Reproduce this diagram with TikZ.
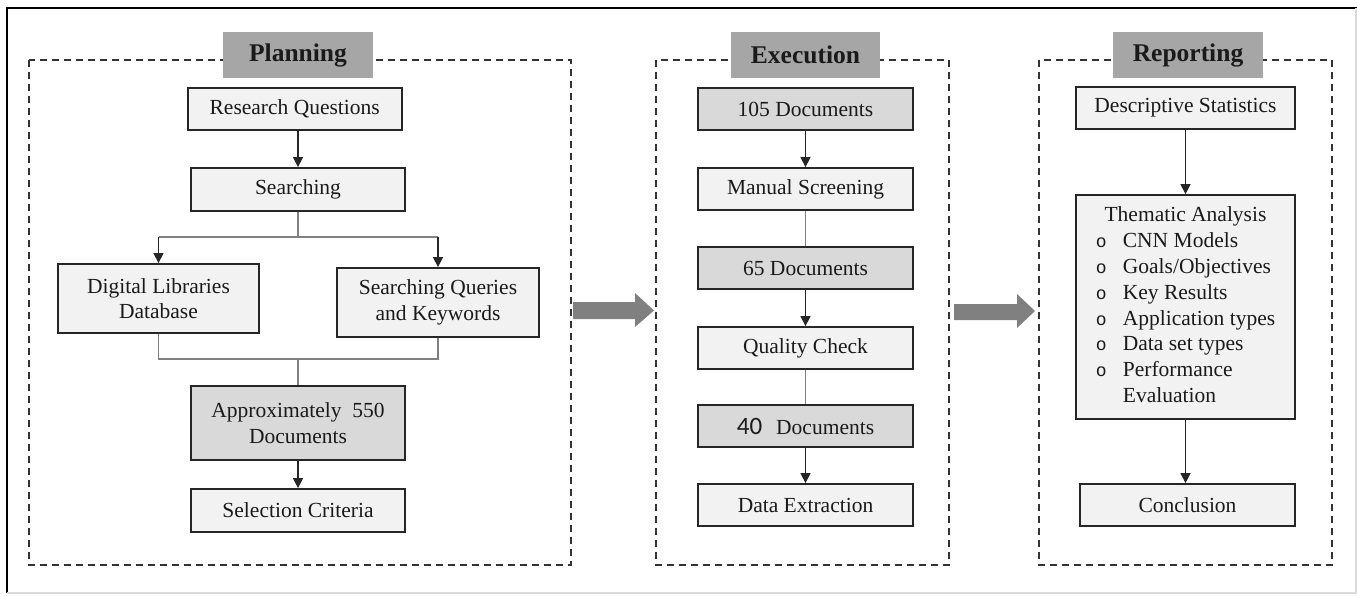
\documentclass[tikz,border=0pt]{standalone}
\usepackage{fontspec}
\setmainfont{Liberation Serif}
\newfontfamily\digitfont{Carlito}
\newfontfamily\bulletfont{Liberation Mono}
\usetikzlibrary{arrows.meta}
\definecolor{boxlight}{HTML}{F2F2F2}
\definecolor{boxdark}{HTML}{D9D9D9}
\definecolor{titlegray}{HTML}{A6A6A6}
\definecolor{bigarrow}{HTML}{808080}
\definecolor{edge}{HTML}{262626}
\definecolor{linkgray}{HTML}{808080}
\definecolor{inktext}{HTML}{1A1A1A}
\newcommand{\itemdot}{\makebox[27pt][l]{\bulletfont\fontsize{18}{18}\selectfont o}}

\begin{document}
\begin{tikzpicture}[x=1pt,y=-1pt,
  box/.style={draw=edge, line width=1.8pt, fill=boxlight, inner sep=0pt,
    text=inktext, align=center, font=\rmfamily\fontsize{21.5}{25.5}\selectfont},
  darkbox/.style={box, fill=boxdark},
  phase/.style={fill=titlegray, inner sep=0pt, minimum width=150pt,
    minimum height=46pt, text=inktext, font=\rmfamily\bfseries\fontsize{25.5}{30}\selectfont},
  frame/.style={draw=black!80, line width=2pt, dash pattern=on 7pt off 5pt},
  link/.style={draw=linkgray, line width=1.4pt},
  arr/.style={draw=black!85, line width=1.4pt, -{Triangle[length=10pt,width=10pt]}},
  blockarrow/.style={fill=bigarrow},
]
\useasboundingbox (0,0) rectangle (1357,595);
\fill[white] (0,0) rectangle (1357,595);

% outer border
\draw[black, line width=2.5pt] (7,593) -- (7,8) -- (1357,8);
\draw[black!15, line width=1.5pt] (1356,8) -- (1356,593) -- (7,593);

% phase frames
\draw[frame] (28.5,60) rectangle (570.5,565);
\draw[frame] (656,60) rectangle (949,565);
\draw[frame] (1039,60) rectangle (1332,565);

\node[phase] (tplan) at (298,55) {Planning};
\node[phase, minimum width=149pt] (texec) at (805.5,55) {Execution};
\node[phase] (trep) at (1188,55) {Reporting};

% ---------- Planning ----------
\node[box, minimum width=214pt, minimum height=42pt] (rq) at (294.7,109) {Research Questions};
\node[box, minimum width=214pt, minimum height=43pt] (srch) at (298,189.5) {Searching};
\node[box, minimum width=201pt, minimum height=69pt] (dl) at (158.5,298.5) {Digital Libraries\\Database};
\node[box, minimum width=202pt, minimum height=69pt] (sq) at (438,302.5) {Searching Queries\\and Keywords};
\node[darkbox, minimum width=214pt, minimum height=74pt] (appx) at (298,423) {Approximately\ \ 550\\Documents};
\node[box, minimum width=214pt, minimum height=43pt] (sel) at (298,510.5) {Selection Criteria};

\draw[arr] (rq.south -| srch.north) -- (srch.north);
\coordinate (split) at (298,237);
\draw[link] (srch.south) -- (split);
\draw[link] (dl.north |- split) -- (sq.north |- split);
\draw[arr] (dl.north |- split) -- (dl.north);
\draw[arr] (sq.north |- split) -- (sq.north);
\coordinate (merge) at (298,359);
\draw[link] (dl.south) -- (dl.south |- merge) -- (sq.south |- merge) -- (sq.south);
\draw[link] (merge) -- (appx.north);
\draw[arr] (appx.south) -- (sel.north);

% ---------- Execution ----------
\node[darkbox, minimum width=215pt, minimum height=42pt] (d105) at (805.5,109) {105 Documents};
\node[box, minimum width=215pt, minimum height=42pt] (ms) at (805.5,189) {Manual Screening};
\node[darkbox, minimum width=215pt, minimum height=42pt] (d65) at (805.5,268) {65 Documents};
\node[box, minimum width=215pt, minimum height=42pt] (qc) at (805.5,348) {Quality Check};
\node[darkbox, minimum width=215pt, minimum height=42pt] (d40) at (805.5,426) {{\digitfont\fontsize{25}{25}\selectfont 40}\hspace{14pt}Documents};
\node[box, minimum width=215pt, minimum height=42pt] (de) at (805.5,505) {Data Extraction};

\draw[arr] (d105) -- (ms);
\draw[link] (ms) -- (d65);
\draw[arr] (d65) -- (qc);
\draw[link] (qc) -- (d40);
\draw[arr] (d40) -- (de);

% ---------- Reporting ----------
\node[box, minimum width=219pt, minimum height=42pt] (ds) at (1185.5,108) {Descriptive Statistics};
\node[box, minimum width=219pt, minimum height=224pt] (ta) at (1185.5,307) {%
  \fontsize{21.5}{25.8}\selectfont
  \begin{tabular}{@{}l@{}l@{}}
    \multicolumn{2}{c}{Thematic Analysis}\\
    \itemdot & CNN Models\\
    \itemdot & Goals/Objectives\\
    \itemdot & Key Results\\
    \itemdot & Application types\\
    \itemdot & Data set types\\
    \itemdot & Performance\\
     & Evaluation
  \end{tabular}};
\node[box, minimum width=215pt, minimum height=42pt] (con) at (1187.5,505) {Conclusion};

\draw[arr] (ds.south -| ta.north) -- (ta.north);
\draw[arr] (ta.south) -- (ta.south |- con.north);

% ---------- block arrows between phases ----------
\fill[blockarrow] (573,302) -- (635,302) -- (635,293) -- (654,310.5)
  -- (635,327) -- (635,319) -- (573,319) -- cycle;
\fill[blockarrow] (954,304) -- (1017,304) -- (1017,294) -- (1035,311)
  -- (1017,328) -- (1017,320) -- (954,320) -- cycle;
\end{tikzpicture}
\end{document}
